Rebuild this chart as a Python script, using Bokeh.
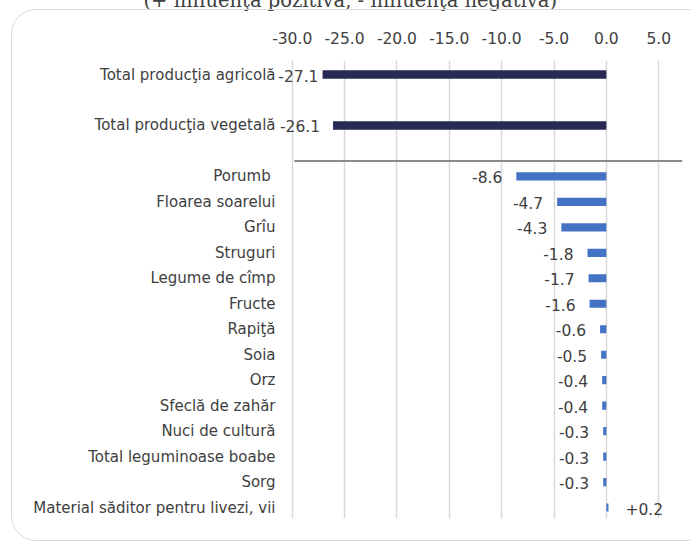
import numpy as np
from bokeh.plotting import figure
from bokeh.models import (ColumnDataSource, Range1d, FixedTicker, PrintfTickFormatter,
                          LabelSet, InlineStyleSheet, Title)
from bokeh.core.properties import value
from bokeh.embed import file_html
from bokeh.resources import INLINE

# ---------------- data ----------------
title_text = "(+ influenţa pozitivă, - influenţa negativă)"
categories_total = ["Total producţia agricolă", "Total producţia vegetală"]
values_total = [-27.1, -26.1]
categories_crops = ["Porumb ", "Floarea soarelui", "Grîu", "Struguri", "Legume de cîmp",
                    "Fructe", "Rapiţă", "Soia", "Orz", "Sfeclă de zahăr", "Nuci de cultură",
                    "Total leguminoase boabe", "Sorg", "Material săditor pentru livezi, vii"]
values_crops = [-8.6, -4.7, -4.3, -1.8, -1.7, -1.6, -0.6, -0.5, -0.4, -0.4, -0.3, -0.3, -0.3, 0.2]
x_ticks = [-30, -25, -20, -15, -10, -5, 0, 5]

FONT = "DejaVu Sans"
FS_CAT = "15px"
FS_VAL = "15.5px"
TXT = "#404040"

# positions: two totals spaced by 2 slots, then crops one slot each
pos_total = [0, 2]
pos_crops = [4 + i for i in range(len(categories_crops))]

SHIFT = 30  # the figure is pulled up so that the title is cut by the page top, as in the reference
border_css = InlineStyleSheet(css="""
:host { position: relative; overflow: hidden; }
:host::after {
  content: "";
  position: absolute;
  left: 10.75px; top: %.2fpx;
  width: 702px; height: 532px;
  border: 1.5px solid #d9d9d9;
  border-radius: 25px;
  box-sizing: border-box;
  pointer-events: none;
}
""" % (8.75 + SHIFT))

W, H = 691, 542 + SHIFT
p = figure(width=W, height=H, output_backend="svg", toolbar_location=None,
           x_range=Range1d(-31.5, 7.27), y_range=Range1d(17.43, -0.55),
           x_axis_location="above", min_border_left=276, min_border_right=9,
           min_border_top=0, min_border_bottom=24, stylesheets=[border_css],
           styles={"margin-top": "-%dpx" % SHIFT})
p.outline_line_color = None
p.background_fill_color = "white"
p.border_fill_color = "white"

# title
p.title = Title(text=title_text, align="left", offset=-133, text_font="DejaVu Serif",
                text_font_size="19.5px", text_color=TXT, text_font_style="normal",
                standoff=33)

# x axis (above)
xa = p.xaxis[0]
xa.ticker = FixedTicker(ticks=x_ticks)
xa.formatter = PrintfTickFormatter(format="%.1f")
xa.axis_line_color = None
xa.major_tick_line_color = None
xa.minor_tick_line_color = None
xa.major_tick_out = 0
xa.major_tick_in = 0
xa.minor_tick_out = 0
xa.major_label_text_font = FONT
xa.major_label_text_font_size = FS_VAL
xa.major_label_text_color = TXT
xa.major_label_standoff = 17

# y axis (categories)
ya = p.yaxis[0]
ya.ticker = FixedTicker(ticks=pos_total + pos_crops)
overrides = {}
for pz, c in zip(pos_total, categories_total):
    overrides[pz] = c
for pz, c in zip(pos_crops, categories_crops):
    overrides[pz] = c
ya.major_label_overrides = overrides
ya.axis_line_color = None
ya.major_tick_line_color = None
ya.minor_tick_line_color = None
ya.major_tick_out = 0
ya.major_tick_in = 0
ya.minor_tick_out = 0
ya.major_label_text_font = FONT
ya.major_label_text_font_size = FS_CAT
ya.major_label_text_color = TXT
ya.major_label_standoff = 1

p.xgrid.ticker = FixedTicker(ticks=x_ticks)
p.xgrid.grid_line_color = "#d9d9d9"
p.xgrid.grid_line_width = 1.5
p.ygrid.grid_line_color = None

# separator line between totals and crops
p.segment(x0=[-29.8], y0=[3.4], x1=[7.27], y1=[3.4], line_color="#8c8c8c", line_width=2)

src_t = ColumnDataSource(dict(y=pos_total, v=values_total,
                              lx=list(np.maximum(values_total, -26.25)),
                              lab=["%.1f" % v for v in values_total]))
p.hbar(y="y", left=0, right="v", height=0.33, source=src_t, fill_color="#262A55", line_color=None)
p.add_layout(LabelSet(x="lx", y="y", text="lab", source=src_t, x_offset=-13, y_offset=-1,
                      text_align="right", text_baseline="middle", text_font=value(FONT),
                      text_font_size=value(FS_VAL), text_color=TXT))

neg = [(pz, v) for pz, v in zip(pos_crops, values_crops) if v < 0]
posv = [(pz, v) for pz, v in zip(pos_crops, values_crops) if v >= 0]
src_c = ColumnDataSource(dict(y=pos_crops, v=values_crops))
p.hbar(y="y", left=0, right="v", height=0.32, source=src_c, fill_color="#4472C4", line_color=None)
src_n = ColumnDataSource(dict(y=[a for a, b in neg], v=[b for a, b in neg],
                              lab=["%.1f" % b for a, b in neg]))
src_p = ColumnDataSource(dict(y=[a for a, b in posv], v=[b for a, b in posv],
                              lab=["+%.1f" % b for a, b in posv]))
p.add_layout(LabelSet(x="v", y="y", text="lab", source=src_n, x_offset=-14, y_offset=-1,
                      text_align="right", text_baseline="middle", text_font=value(FONT),
                      text_font_size=value(FS_VAL), text_color=TXT))
p.add_layout(LabelSet(x="v", y="y", text="lab", source=src_p, x_offset=17, y_offset=-1,
                      text_align="left", text_baseline="middle", text_font=value(FONT),
                      text_font_size=value(FS_VAL), text_color=TXT))

open("out.html", "w").write(file_html(p, INLINE))
